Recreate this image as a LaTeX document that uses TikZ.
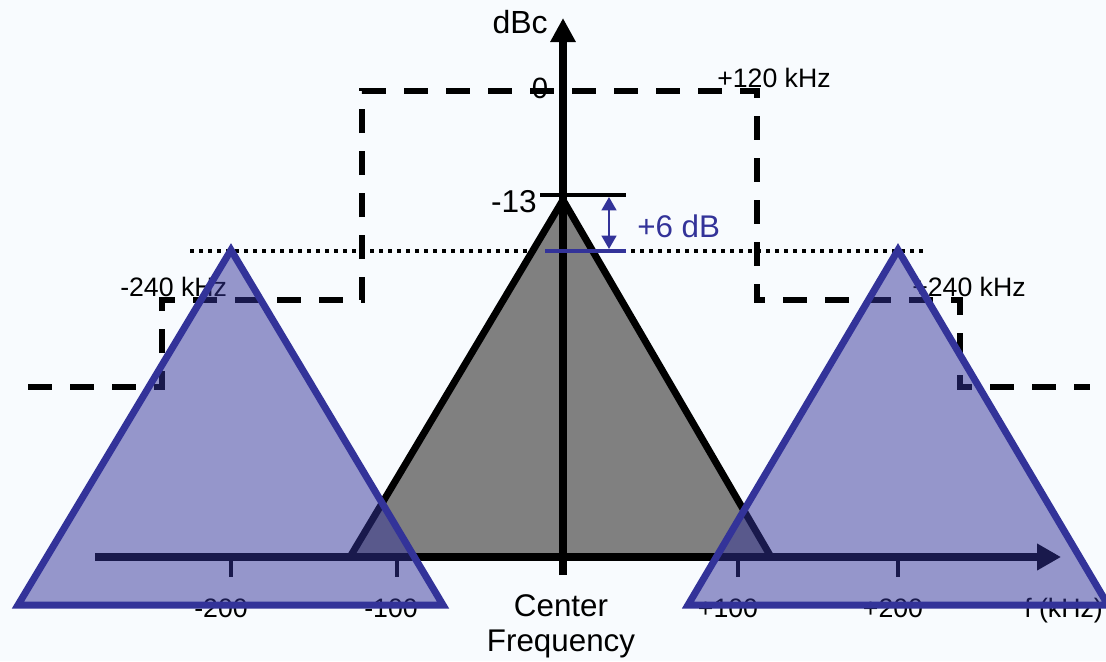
\documentclass[tikz,border=0pt]{standalone}
\usepackage{fontspec}
\setmainfont{Liberation Sans}
\usetikzlibrary{arrows.meta}
\definecolor{bgc}{RGB}{248,251,254}
\definecolor{tri}{RGB}{51,51,153}
\definecolor{grayfill}{RGB}{128,128,128}
\begin{document}
\begin{tikzpicture}[x=0.75pt,y=-0.75pt,
  lbl/.style={font=\fontsize{20}{24}\selectfont, inner sep=0pt, anchor=base},
  big/.style={font=\fontsize{23.5}{28}\selectfont, inner sep=0pt, anchor=base},
  maskline/.style={line width=4.5pt, dash pattern=on 18pt off 13.5pt, dash phase=29.25pt},
  dotline/.style={line width=2.3pt, dash pattern=on 3pt off 3.75pt},
  axisline/.style={line width=5.5pt},
  tickline/.style={line width=2.6pt},
  sidelobe/.style={draw=tri, line width=5.25pt, fill=tri, fill opacity=0.5, line join=miter},
  mainlobe/.style={draw=black, line width=5.25pt, fill=grayfill, line join=miter}
]
\fill[bgc] (0,0) rectangle (1106,661);
\useasboundingbox (0,0) rectangle (1106,661);

% mask corners
\coordinate (m0) at (25,387);
\coordinate (m1) at (162,387);
\coordinate (m2) at (162,300);
\coordinate (m3) at (362,300);
\coordinate (m4) at (362,91);
\coordinate (m5) at (757,91);
\coordinate (m6) at (757,300);
\coordinate (m7) at (960,300);
\coordinate (m8) at (960,387);
\coordinate (m9) at (1090,387);
\draw[maskline] (m0) -- (m1) -- (m2) -- (m3) -- (m4) -- (m5) -- (m6) -- (m7) -- (m8) -- (m9);

% dotted level line
\coordinate (d0) at (190,251);
\coordinate (d1) at (925,251);
\draw[dotline] (d0) -- (d1);

% main lobe
\coordinate (gL) at (350,557);
\coordinate (gT) at (563,200);
\coordinate (gR) at (771,557);
\draw[mainlobe] (gL) -- (gT) -- (gR) -- cycle;

% axes
\coordinate (yb) at (563,575);
\coordinate (yt) at (563,18);
\coordinate (xl) at (95,557);
\coordinate (xr) at (1061,557);
\draw[axisline, -{Triangle[length=18pt,width=18pt]}] (yb) -- (yt);
\draw[axisline, -{Triangle[length=18pt,width=19pt]}] (xl) -- (xr);

% ticks
\foreach \n/\x in {a/231,b/397,c/738,d/898}{
  \coordinate (t\n0) at (\x,557);
  \coordinate (t\n1) at (\x,577);
  \draw[tickline] (t\n0) -- (t\n1);
}

% -13 level and +6 dB marker
\coordinate (k0) at (540,195);
\coordinate (k1) at (626,195);
\draw[line width=2.4pt] (k0) -- (k1);
\coordinate (b0) at (545,251);
\coordinate (b1) at (626,251);
\draw[tri, line width=2.6pt] (b0) -- (b1);
\coordinate (a0) at (609,197);
\coordinate (a1) at (609,249);
\draw[tri, line width=1.8pt, {Triangle[length=10pt,width=11pt]}-{Triangle[length=10pt,width=11pt]}] (a0) -- (a1);

% labels
\node[big, anchor=base east, font=\fontsize{24}{28}\selectfont] (dbc) at (548,33) {dBc};
\node[big, font=\fontsize{22}{26}\selectfont] (zero) at (540,98) {0};
\node[lbl, anchor=base west] (p120) at (717,87) {+120 kHz};
\node[big, anchor=base east, font=\fontsize{23.7}{28}\selectfont] (m13) at (537,212) {-13};
\node[big, anchor=base west, text=tri] (p6) at (637,237) {+6 dB};
\node[lbl, anchor=base west] (m240) at (120,296) {-240 kHz};
\node[lbl, anchor=base west] (p240) at (912,296) {+240 kHz};
\node[lbl] (l200m) at (221,617) {-200};
\node[lbl] (l100m) at (391,617) {-100};
\node[lbl] (l100p) at (728,617) {+100};
\node[lbl] (l200p) at (893,617) {+200};
\node[lbl, anchor=base west] (fk) at (1024,617) {f (kHz)};
\node[big, font=\fontsize{23.5}{28}\selectfont] (cen) at (561,616) {Center};
\node[big, font=\fontsize{23.5}{28}\selectfont] (freq) at (561,651) {Frequency};

% side lobes (translucent, on top)
\coordinate (lL) at (18,605);
\coordinate (lT) at (231,250);
\coordinate (lR) at (443,605);
\draw[sidelobe] (lL) -- (lT) -- (lR) -- cycle;
\coordinate (rL) at (688,605);
\coordinate (rT) at (898,250);
\coordinate (rR) at (1108,605);
\draw[sidelobe] (rL) -- (rT) -- (rR) -- cycle;
\end{tikzpicture}
\end{document}
